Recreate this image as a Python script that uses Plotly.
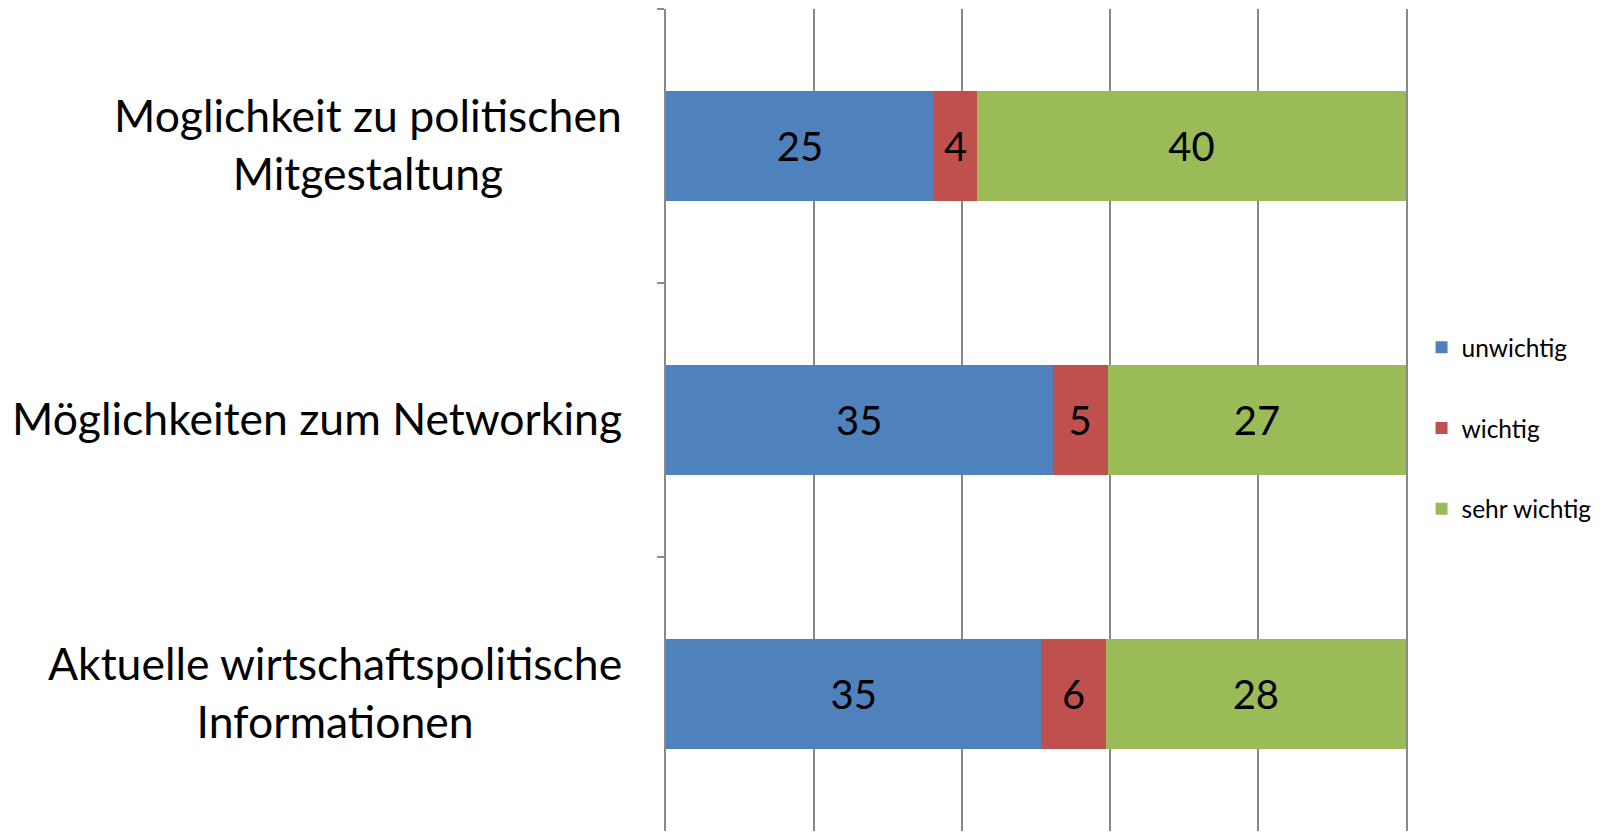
import plotly.graph_objects as go

categories = ["Moglichkeit zu politischen<br>Mitgestaltung",
              "Möglichkeiten zum Networking",
              "Aktuelle wirtschaftspolitische<br>Informationen"]
unwichtig = [25, 35, 35]
wichtig = [4, 5, 6]
sehr_wichtig = [40, 27, 28]
series = [("unwichtig", unwichtig, "#4F81BD"),
          ("wichtig", wichtig, "#C0504D"),
          ("sehr wichtig", sehr_wichtig, "#9BBB59")]

FONT = "Lato"
fig = go.Figure()
for i, (name, vals, col) in enumerate(series):
    fig.add_trace(go.Bar(
        y=categories, x=vals, name=name, orientation="h",
        marker=dict(color=col, line=dict(width=0)),
        text=vals, textposition="inside", insidetextanchor="middle",
        textfont=dict(size=40, color="black", family=FONT),
        legendgroup=name,
    ))

# category labels, centre-aligned within a right-anchored block
for cat in categories:
    fig.add_annotation(text=cat, xref="paper", x=0, yref="y", y=cat,
                       xanchor="right", yanchor="middle", align="center",
                       xshift=-42, yshift=3, showarrow=False,
                       font=dict(size=44.5, family=FONT, color="black"))

fig.update_layout(
    barmode="stack", barnorm="percent", bargap=0.6,
    width=1594, height=824,
    margin=dict(l=658, r=196, t=1, b=1),
    plot_bgcolor="white", paper_bgcolor="white",
    font=dict(family=FONT, color="black"),
    legend=dict(x=1.021, y=0.49, xanchor="left", yanchor="middle",
                font=dict(size=24.5, family=FONT), tracegroupgap=46,
                itemwidth=30, traceorder="grouped"),
    showlegend=True,
)
fig.update_xaxes(range=[0, 100], dtick=20, showgrid=True, gridcolor="#888888",
                 gridwidth=1.5, showticklabels=False, zeroline=False,
                 showline=False, ticks="")
fig.update_yaxes(autorange="reversed", showline=True, linecolor="#888888",
                 linewidth=1.5, mirror=True, ticks="outside", ticklen=7,
                 tickcolor="#888888", tickwidth=1.5, tickson="boundaries",
                 showgrid=False, automargin=False, showticklabels=False)
fig.write_html("out.html")
